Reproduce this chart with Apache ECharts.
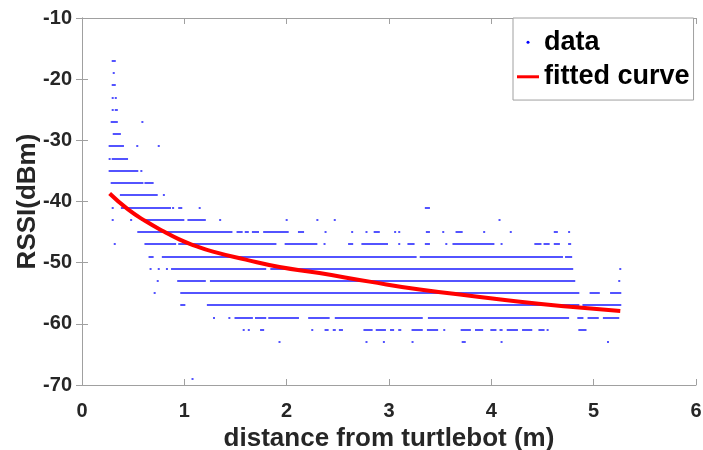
<style>html, body { margin: 0; padding: 0; }</style>
<script src="https://cdn.jsdelivr.net/npm/echarts@6/dist/echarts.min.js"></script>

<div id="chart" style="width: 703px; height: 450px;"></div>

<script>
  // RSSI levels (dBm) and the distance runs (m) where samples sit at each level
  const rssiLevels = [-17, -19, -21, -23, -25, -27, -29, -31, -33, -35, -37, -39,
    -41, -43, -45, -47, -49, -51, -53, -55, -57, -59, -61, -63, -69];

  const levelRuns = [
    [[0.30, 0.33]],
    [[0.31, 0.32]],
    [[0.30, 0.33]],
    [[0.30, 0.30], [0.33, 0.34]],
    [[0.30, 0.30], [0.33, 0.35]],
    [[0.29, 0.35], [0.59, 0.59]],
    [[0.31, 0.38]],
    [[0.27, 0.41], [0.54, 0.54], [0.75, 0.75]],
    [[0.27, 0.27], [0.30, 0.45]],
    [[0.27, 0.55], [0.58, 0.58]],
    [[0.29, 0.60], [0.62, 0.70]],
    [[0.38, 0.74], [0.80, 0.80]],
    [[0.30, 0.30], [0.39, 0.87], [0.89, 0.90], [0.95, 0.98], [1.15, 1.15], [3.36, 3.40]],
    [[0.30, 0.30], [0.48, 0.49], [0.59, 1.00], [1.04, 1.21], [1.35, 1.35], [2.00, 2.00],
      [2.30, 2.30], [2.47, 2.47], [4.08, 4.08]],
    [[0.55, 1.47], [1.52, 1.57], [1.60, 1.63], [1.67, 1.73], [1.78, 2.02], [2.12, 2.17],
      [2.38, 2.38], [2.64, 2.64], [2.78, 2.78], [2.86, 2.91], [3.06, 3.06], [3.10, 3.10],
      [3.37, 3.40], [3.53, 3.53], [3.66, 3.72], [3.93, 3.93], [4.19, 4.19], [4.62, 4.65], [4.76, 4.76]],
    [[0.32, 0.32], [0.62, 0.92], [0.95, 1.90], [1.99, 2.30], [2.37, 2.37], [2.61, 2.65],
      [2.74, 2.99], [3.10, 3.10], [3.19, 3.25], [3.36, 3.40], [3.56, 3.56], [3.63, 4.03],
      [4.10, 4.10], [4.43, 4.49], [4.52, 4.57], [4.62, 4.67], [4.76, 4.78]],
    [[0.66, 0.70], [0.79, 3.27], [3.31, 4.70], [4.73, 4.79]],
    [[0.67, 0.67], [0.75, 0.75], [0.83, 0.83], [0.88, 1.80], [1.85, 4.80], [5.26, 5.26]],
    [[0.74, 0.74], [0.94, 1.21], [1.26, 4.82], [5.25, 5.25]],
    [[0.71, 0.71], [0.97, 4.86], [4.97, 5.06], [5.17, 5.27]],
    [[0.97, 1.01], [1.23, 4.86], [4.90, 5.27]],
    [[1.29, 1.29], [1.44, 1.44], [1.50, 1.67], [1.70, 1.80], [1.83, 2.12], [2.22, 2.42],
      [2.48, 3.33], [3.39, 4.76], [4.85, 4.90], [4.95, 5.05], [5.10, 5.25]],
    [[1.58, 1.58], [1.63, 1.63], [1.75, 1.78], [2.25, 2.25], [2.38, 2.41], [2.46, 2.48],
      [2.52, 2.55], [2.76, 2.84], [2.88, 2.97], [3.02, 3.05], [3.10, 3.12], [3.23, 3.33],
      [3.38, 3.48], [3.54, 3.54], [3.71, 3.80], [3.85, 3.92], [4.00, 4.05], [4.09, 4.11],
      [4.16, 4.26], [4.31, 4.40], [4.47, 4.52], [4.55, 4.55], [4.86, 4.93]],
    [[1.93, 1.93], [2.78, 2.78], [2.95, 2.95], [3.23, 3.23], [3.72, 3.75], [4.10, 4.10], [5.14, 5.14]],
    [[1.08, 1.08]]
  ];

  // fitted curve
  const fitX = [0.27, 0.45, 0.62, 0.80, 0.95, 1.10, 1.28, 1.60, 1.93, 2.32, 2.81, 3.30, 3.79, 4.28, 4.77, 5.26];
  const fitY = [-38.7, -41.3, -43.2, -44.9, -46.2, -47.2, -48.2, -49.5, -50.7, -51.7, -53.1, -54.4, -55.4, -56.4, -57.2, -57.9];

  const ready = (fn) => {
    if (document.readyState !== "loading") {
      fn();
    } else {
      document.addEventListener("DOMContentLoaded", fn);
    }
  };

  ready(() => {
    const runData = [];
    rssiLevels.forEach((level, i) => {
      levelRuns[i].forEach(([x0, x1]) => runData.push([x0, x1, level]));
    });
    const fitData = fitX.map((x, i) => [x, fitY[i]]);

    const font = 'Liberation Sans';
    const axisGray = '#a0a0a0';
    const textColor = '#262626';

    const chart = echarts.init(document.getElementById("chart"), null, { renderer: "canvas" });

    const baseX = {
      type: 'value', min: 0, max: 6, interval: 1,
      axisLine: { show: true, lineStyle: { color: axisGray, width: 1 } },
      axisTick: { show: true, inside: true, length: 6, lineStyle: { color: axisGray } },
      splitLine: { show: false }
    };
    const baseY = {
      type: 'value', min: -70, max: -10, interval: 10,
      axisLine: { show: true, lineStyle: { color: axisGray, width: 1 } },
      axisTick: { show: true, inside: true, length: 6, lineStyle: { color: axisGray } },
      splitLine: { show: false }
    };

    const option = {
      animation: false,
      backgroundColor: '#fff',
      grid: { left: 82, right: 7, top: 18, bottom: 65, containLabel: false, outerBoundsMode: 'none' },
      xAxis: [
        {
          ...baseX, position: 'bottom',
          name: 'distance from turtlebot (m)', nameLocation: 'middle', nameGap: 31,
          nameMoveOverlap: false,
          nameTextStyle: { fontSize: 26, fontWeight: 'bold', fontFamily: font, color: textColor },
          axisLabel: { fontSize: 20, fontWeight: 'bold', fontFamily: font, color: textColor, margin: 9 }
        },
        { ...baseX, position: 'top', axisLabel: { show: false } }
      ],
      yAxis: [
        {
          ...baseY, position: 'left',
          name: 'RSSI(dBm)', nameLocation: 'middle', nameGap: 32, nameRotate: 90,
          nameMoveOverlap: false,
          nameTextStyle: { fontSize: 26, fontWeight: 'bold', fontFamily: font, color: textColor },
          axisLabel: { fontSize: 20, fontWeight: 'bold', fontFamily: font, color: textColor, margin: 10 }
        },
        { ...baseY, position: 'right', axisLabel: { show: false } }
      ],
      legend: {
        orient: 'vertical', left: 513, top: 18,
        itemWidth: 22, itemHeight: 3, itemGap: -12,
        padding: [1, 4, 0, 4],
        borderColor: axisGray, borderWidth: 1, backgroundColor: '#fff',
        textStyle: { fontSize: 27, lineHeight: 26, fontWeight: 'bold', fontFamily: font, color: '#000' },
        data: [
          { name: 'data', icon: 'circle', itemStyle: { color: '#0000ff' } },
          { name: 'fitted curve', icon: 'rect', itemStyle: { color: '#ff0000' } }
        ]
      },
      series: [
        {
          name: 'data',
          type: 'custom',
          clip: true,
          encode: { x: [0, 1], y: 2 },
          data: runData,
          itemStyle: { color: '#0000ff' },
          renderItem: (params, api) => {
            const p0 = api.coord([api.value(0), api.value(2)]);
            const p1 = api.coord([api.value(1), api.value(2)]);
            const w = Math.max(p1[0] - p0[0], 1) + 1;
            return {
              type: 'rect',
              shape: { x: p0[0] - 1, y: Math.round(p0[1]) - 0.75, width: w, height: 1.5 },
              style: { fill: '#1a1aff' }
            };
          }
        },
        {
          name: 'fitted curve',
          type: 'line',
          data: fitData,
          smooth: true,
          showSymbol: false,
          symbol: 'none',
          z: 5,
          lineStyle: { color: '#ff0000', width: 4 }
        }
      ]
    };
    chart.setOption(option);
  });
</script>
